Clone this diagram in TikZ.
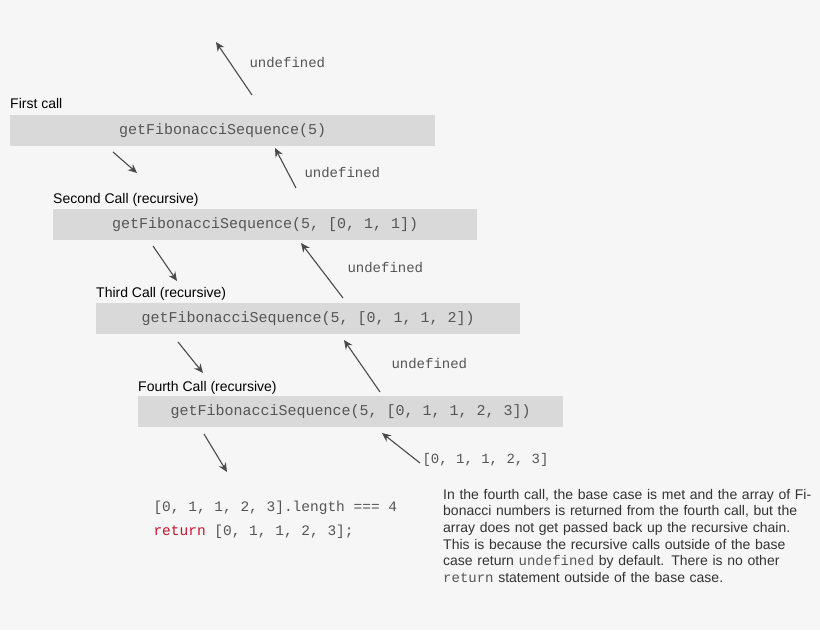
\documentclass[tikz,border=0pt]{standalone}
\usepackage{fontspec}
\setmainfont{Liberation Sans}
\setmonofont{Liberation Mono}
\usetikzlibrary{arrows.meta}
\begin{document}
\begin{tikzpicture}[x=1pt,y=-1pt,
  callbox/.style={fill=boxgray,draw=none,minimum height=31pt,anchor=north west,inner sep=0pt},
  code/.style={font=\fontsize{15}{17}\selectfont\ttfamily,text=codegray},
  lbl/.style={font=\fontsize{14}{16}\selectfont,anchor=base west,inner sep=0pt},
  arr/.style={draw=arrgray,line width=1.1pt,-{Stealth[length=9pt,width=8pt]}}]
\definecolor{bg}{HTML}{F6F6F6}
\definecolor{boxgray}{HTML}{D9D9D9}
\definecolor{codegray}{HTML}{555555}
\definecolor{arrgray}{HTML}{4A4A4A}
\definecolor{retred}{HTML}{C8102E}
\fill[bg] (0,0) rectangle (820,630);
\useasboundingbox (0,0) rectangle (820,630);
% boxes
\node[callbox,minimum width=425pt] (b1) at (10,115) {};
\node[code] at (b1.center) {getFibonacciSequence(5)};
\node[callbox,minimum width=424pt] (b2) at (53,209) {};
\node[code] at (b2.center) {getFibonacciSequence(5, [0, 1, 1])};
\node[callbox,minimum width=424pt] (b3) at (96,303) {};
\node[code] at (b3.center) {getFibonacciSequence(5, [0, 1, 1, 2])};
\node[callbox,minimum width=425pt] (b4) at (138,396) {};
\node[code] at (b4.center) {getFibonacciSequence(5, [0, 1, 1, 2, 3])};
% labels
\node[lbl] (l1) at (10,108) {First call};
\node[lbl] (l2) at (53,203) {Second Call (recursive)};
\node[lbl] (l3) at (96,297) {Third Call (recursive)};
\node[lbl] (l4) at (138,391) {Fourth Call (recursive)};
% down arrows
\coordinate (d1a) at (113,152); \coordinate (d1b) at (137,173);
\coordinate (d2a) at (153,246); \coordinate (d2b) at (177,281);
\coordinate (d3a) at (178,342); \coordinate (d3b) at (203,373);
\coordinate (d4a) at (204,434); \coordinate (d4b) at (227,472);
\draw[arr] (d1a) -- (d1b);
\draw[arr] (d2a) -- (d2b);
\draw[arr] (d3a) -- (d3b);
\draw[arr] (d4a) -- (d4b);
% up arrows
\coordinate (u0a) at (252,95); \coordinate (u0b) at (216,42);
\coordinate (u1a) at (296,188); \coordinate (u1b) at (275,148);
\coordinate (u2a) at (343,298); \coordinate (u2b) at (301,243);
\coordinate (u3a) at (380,392); \coordinate (u3b) at (344,340);
\coordinate (u4a) at (420,463); \coordinate (u4b) at (382,433);
\draw[arr] (u0a) -- (u0b);
\draw[arr] (u1a) -- (u1b);
\draw[arr] (u2a) -- (u2b);
\draw[arr] (u3a) -- (u3b);
\draw[arr] (u4a) -- (u4b);
\node[code,anchor=west,font=\fontsize{14}{16}\selectfont\ttfamily] (t0) at (246,63) {undefined};
\node[code,anchor=west,font=\fontsize{14}{16}\selectfont\ttfamily] (t1) at (301,173) {undefined};
\node[code,anchor=west,font=\fontsize{14}{16}\selectfont\ttfamily] (t2) at (344,268) {undefined};
\node[code,anchor=west,font=\fontsize{14}{16}\selectfont\ttfamily] (t3) at (388,364) {undefined};
\node[code,anchor=west,font=\fontsize{14}{16}\selectfont\ttfamily] (t4) at (419,460) {[0, 1, 1, 2, 3]};
% result code
\node[code,anchor=west,font=\fontsize{14.5}{24}\selectfont\ttfamily] (res1) at (150,508) {[0, 1, 1, 2, 3].length === 4};
\node[code,anchor=west,font=\fontsize{14.5}{24}\selectfont\ttfamily] (res2) at (150,532) {\textcolor{retred}{return} [0, 1, 1, 2, 3];};
% paragraph
\node[anchor=north west,inner sep=0pt,text width=372pt,align=left,text=black!80,
  font=\fontsize{14}{16.6}\selectfont] (para) at (443,489)
{In the fourth call, the base case is met and the array of Fibonacci numbers is returned from the fourth call, but the array does not get passed back up the recursive chain. This is because the recursive calls outside of the base case return {\ttfamily\color{codegray}undefined} by default. There is no other {\ttfamily\color{codegray}return} statement outside of the base case.};
\end{tikzpicture}
\end{document}
